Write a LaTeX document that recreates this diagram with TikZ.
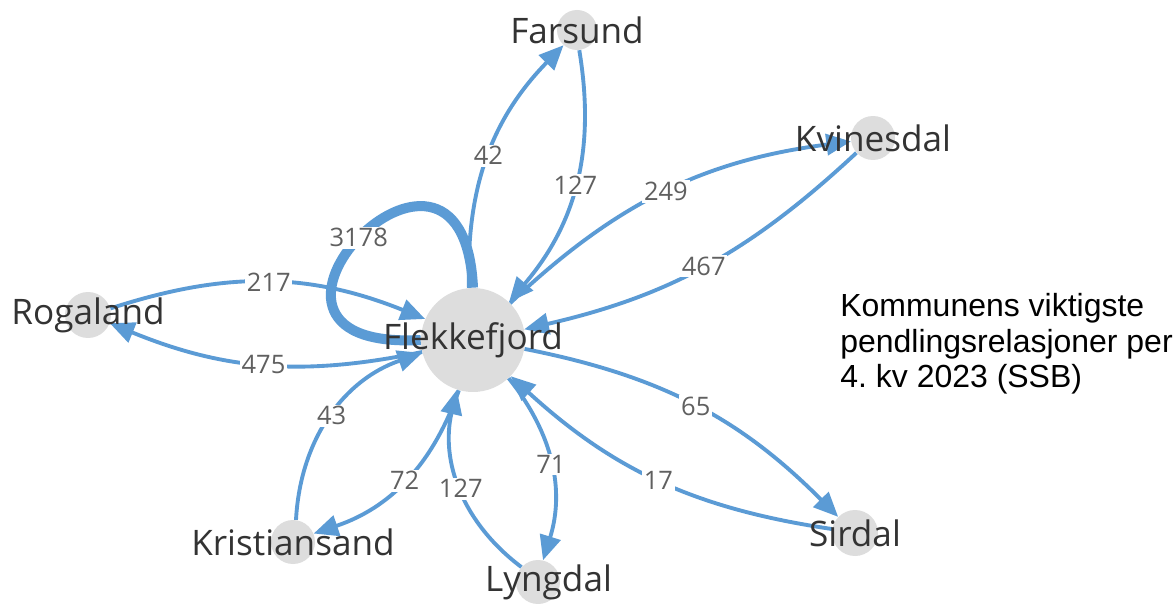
\documentclass[tikz,border=0pt]{standalone}
\usepackage{fontspec}
\setmainfont{Open Sans}
\newfontfamily\notefont{Liberation Sans}
\usetikzlibrary{arrows.meta}
\definecolor{flow}{HTML}{5B9BD5}
\definecolor{spotgray}{HTML}{DDDDDD}
\definecolor{nametext}{HTML}{333333}
\definecolor{numtext}{HTML}{606060}
\frenchspacing

\begin{document}
\begin{tikzpicture}[x=0.02cm,y=-0.02cm,>={Triangle[length=14pt,width=12pt]}]
\tikzstyle{spot}=[circle, fill=spotgray, inner sep=0pt, minimum size=0.88cm]
\tikzstyle{town}=[text=nametext, font=\fontsize{20pt}{22pt}\selectfont, inner sep=0pt]
\tikzstyle{link}=[->, color=flow, line width=2.2pt]
\tikzstyle{num}=[fill=white, text=numtext, font=\fontsize{14.5pt}{16pt}\selectfont, inner sep=1pt]
\path[use as bounding box, fill=white] (0,0) rectangle (1175,604);
\node[spot, minimum size=2.08cm] (fle) at (473,340) {};
\node[spot, minimum size=0.8cm] (far) at (577,30) {};
\node[spot] (kvi) at (873,138) {};
\node[spot, minimum size=0.92cm] (rog) at (88,315) {};
\node[spot] (kri) at (293,542) {};
\node[spot] (lyn) at (538,582) {};
\node[spot, minimum size=0.92cm] (sir) at (855,533) {};
\draw[color=flow, line width=5.7pt] (fle.north) .. controls +(-10,-215) and +(-225,12) .. (fle.west) node[num, pos=0.5] {3178};
\draw[link] (fle) to[bend left=23] node[num] {42} (far);
\draw[link] (far) to[bend left=25] node[num] {127} (fle);
\draw[link] (fle) to[bend left=18] node[num] {249} (kvi);
\draw[link] (kvi) to[bend left=15] node[num] {467} (fle);
\draw[link] (rog) to[bend left=20] node[num] {217} (fle);
\draw[link] (fle) to[bend left=17] node[num] {475} (rog);
\draw[link] (kri) to[bend left=34] node[num] {43} (fle);
\draw[link] (fle) to[bend left=26] node[num] {72} (kri);
\draw[link] (lyn) to[bend left=33] node[num] {127} (fle);
\draw[link] (fle) to[bend left=28] node[num] {71} (lyn);
\draw[link] (fle) to[bend left=17] node[num] {65} (sir);
\draw[link] (sir) to[bend left=17] node[num] {17} (fle);
\node[town] (flename) at (fle) {Flekkefjord};
\node[town] (farname) at (far) {Farsund};
\node[town] (kviname) at (kvi) {Kvinesdal};
\node[town] (rogname) at (rog) {Rogaland};
\node[town] (kriname) at (kri) {Kristiansand};
\node[town] (lynname) at ([xshift=6]lyn) {Lyngdal};
\node[town] (sirname) at (sir) {Sirdal};
\node[anchor=north west, inner sep=0pt, align=left, font=\notefont\fontsize{18.2pt}{20.2pt}\selectfont] (note) at (840,293) {Kommunens viktigste\\pendlingsrelasjoner per\\4. kv 2023 (SSB)};
\end{tikzpicture}
\end{document}
